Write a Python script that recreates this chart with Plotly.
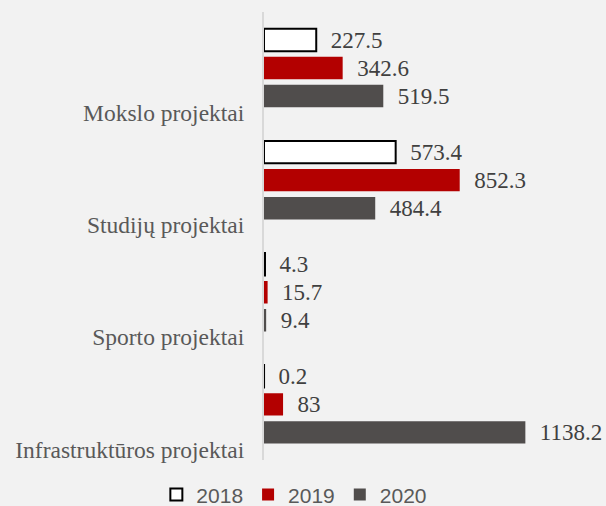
import plotly.graph_objects as go

categories = ["Mokslo projektai", "Studijų projektai", "Sporto projektai", "Infrastruktūros projektai"]
years = ["2018", "2019", "2020"]
values_2018 = [227.5, 573.4, 4.3, 0.2]
values_2019 = [342.6, 852.3, 15.7, 83]
values_2020 = [519.5, 484.4, 9.4, 1138.2]

series = [
    (years[0], values_2018, "#ffffff", "#000000", 2),
    (years[1], values_2019, "#b30000", "#b30000", 0),
    (years[2], values_2020, "#504d4c", "#504d4c", 0),
]

serif = "Liberation Serif"
value_font = dict(family=serif, size=23, color="#404040")

fig = go.Figure()
for name, vals, fill, edge, lw in series:
    fig.add_trace(go.Bar(
        name=name,
        y=categories,
        x=vals,
        orientation="h",
        marker=dict(color=fill, line=dict(color=edge, width=lw)),
        text=[f"{v:g}" for v in vals],
        texttemplate="\u2002%{text}",
        textposition="outside",
        constraintext="none",
        cliponaxis=False,
        textfont=value_font,
        outsidetextfont=value_font,
    ))

fig.update_layout(
    width=606,
    height=506,
    font=dict(family=serif, color="#404040"),
    barmode="group",
    bargap=0.25,
    bargroupgap=0.2,
    paper_bgcolor="#f2f2f2",
    plot_bgcolor="#f2f2f2",
    margin=dict(l=264, r=63, t=12, b=31),
    showlegend=True,
    legend=dict(
        orientation="h",
        xref="container", yref="container",
        x=0.258, y=0.022,
        xanchor="left", yanchor="middle",
        font=dict(family="Liberation Sans", size=21, color="#595959"),
        bgcolor="rgba(0,0,0,0)",
    ),
    xaxis=dict(range=[0, 1215], visible=False, fixedrange=True),
    yaxis=dict(
        autorange="reversed",
        showline=True, linecolor="#d9d9d9", linewidth=2,
        showgrid=False, zeroline=False, ticks="",
        ticklabelstandoff=13,
        ticklabelshift=-45,
        tickfont=dict(family=serif, size=23.5, color="#595959"),
    ),
)

fig.write_html("out.html")
